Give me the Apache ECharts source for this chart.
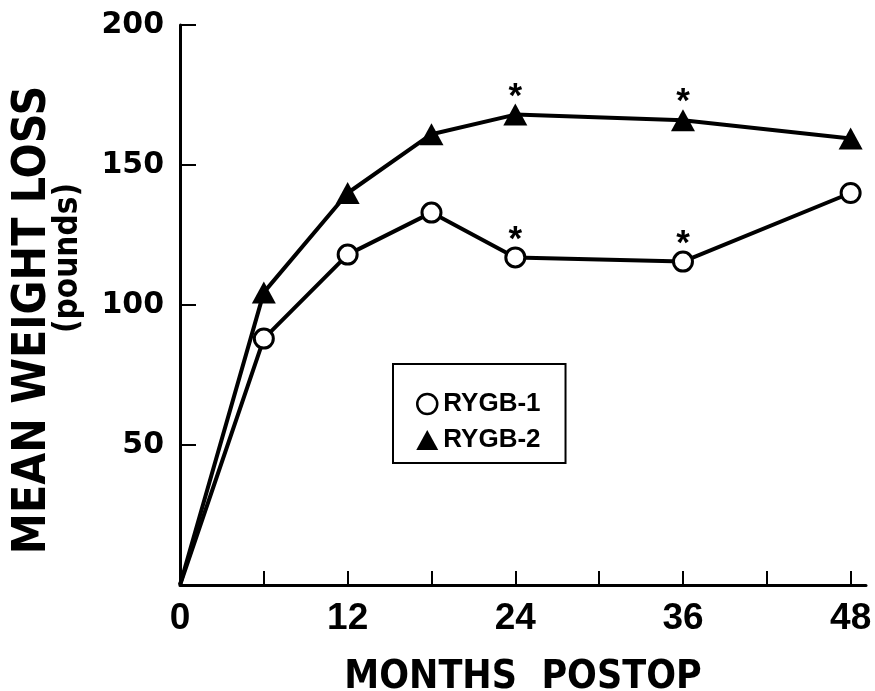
<!DOCTYPE html>
<html>
<head>
<meta charset="utf-8">
<script src="https://cdn.jsdelivr.net/npm/echarts@6/dist/echarts.min.js"></script>
<style>
html,body{margin:0;padding:0;background:#fff;}
#chart{width:875px;height:691px;}
</style>
</head>
<body>
<div id="chart"></div>
<script>
// ---- data ----
const months = [0, 6, 12, 18, 24, 36, 48];
const rygb1 = [0, 88, 118, 133, 117, 115.5, 140];
const rygb2 = [0, 104.5, 140, 161, 168, 166, 159.5];
const starredMonths = [24, 36];
const xTickValues = [6, 12, 18, 24, 30, 36, 42, 48];
const xLabelValues = [0, 12, 24, 36, 48];
const yTickValues = [50, 100, 150, 200];
const seriesNames = ['RYGB-1', 'RYGB-2'];

function buildData(vals) {
  return months.map((m, i) => {
    const item = { value: [m, vals[i]] };
    if (m === 0) { item.symbol = 'none'; }
    if (starredMonths.indexOf(m) >= 0) {
      item.label = {
        show: true, formatter: '*', position: 'top', distance: -11,
        fontFamily: 'Liberation Sans', fontWeight: 'bold', fontSize: 35, color: '#000'
      };
    }
    return item;
  });
}

const condensed = "'DejaVu Sans Condensed', 'DejaVu Sans'";

const chart = echarts.init(document.getElementById('chart'), null, { renderer: 'canvas' });
chart.setOption({
  backgroundColor: '#fff',
  animation: false,
  grid: { left: 180, right: 9, top: 25, bottom: 106, containLabel: false, outerBoundsMode: 'none' },
  xAxis: {
    type: 'value', min: 0, max: 49.1,
    axisLine: { show: true, lineStyle: { color: '#000', width: 3 } },
    axisTick: { show: true, inside: true, length: 14, customValues: xTickValues, lineStyle: { color: '#000', width: 2 } },
    axisLabel: { customValues: xLabelValues, margin: 15, color: '#000', fontFamily: 'Liberation Sans', fontWeight: 'bold', fontSize: 37 },
    splitLine: { show: false },
    name: 'MONTHS  POSTOP', nameLocation: 'middle', nameGap: 73,
    nameTextStyle: { color: '#000', fontFamily: condensed, fontWeight: 'bold', fontSize: 39 }
  },
  yAxis: {
    type: 'value', min: 0, max: 200,
    axisLine: { show: true, lineStyle: { color: '#000', width: 3 } },
    axisTick: { show: true, inside: true, length: 16, customValues: yTickValues, lineStyle: { color: '#000', width: 2 } },
    axisLabel: { customValues: yTickValues, margin: 16, color: '#000', fontFamily: 'DejaVu Sans', fontWeight: 'bold', fontSize: 30 },
    splitLine: { show: false },
    name: '{a|MEAN WEIGHT LOSS}\n{b|(pounds)}', nameLocation: 'middle', nameRotate: 90, nameGap: 95,
    nameTextStyle: {
      color: '#000',
      rich: {
        a: { fontFamily: condensed, fontWeight: 'bold', fontSize: 46, lineHeight: 36, color: '#000', padding: [0, 30, 0, 0] },
        b: { fontFamily: condensed, fontWeight: 'bold', fontSize: 33, lineHeight: 34, color: '#000', padding: [0, 0, 0, 94] }
      }
    }
  },
  legend: {
    orient: 'vertical', left: 393, top: 364,
    padding: [27, 25, 10, 23],
    borderColor: '#000', borderWidth: 2, backgroundColor: '#fff',
    itemWidth: 22, itemHeight: 20, itemGap: 10,
    textStyle: { color: '#000', fontFamily: 'Liberation Sans', fontWeight: 'bold', fontSize: 26 },
    data: [
      { name: seriesNames[0], icon: 'circle', itemStyle: { color: '#fff', borderColor: '#000', borderWidth: 2.5 } },
      { name: seriesNames[1], icon: 'triangle', itemStyle: { color: '#000', borderWidth: 0 } }
    ]
  },
  series: [
    {
      name: seriesNames[0], type: 'line', data: buildData(rygb1),
      symbol: 'circle', symbolSize: 19, showAllSymbol: true,
      lineStyle: { color: '#000', width: 4 },
      itemStyle: { color: '#fff', borderColor: '#000', borderWidth: 3 },
      z: 3
    },
    {
      name: seriesNames[1], type: 'line', data: buildData(rygb2),
      symbol: 'triangle', symbolSize: [24, 22], showAllSymbol: true,
      lineStyle: { color: '#000', width: 4 },
      itemStyle: { color: '#000', borderWidth: 0 },
      z: 3
    }
  ]
});
</script>
</body>
</html>
